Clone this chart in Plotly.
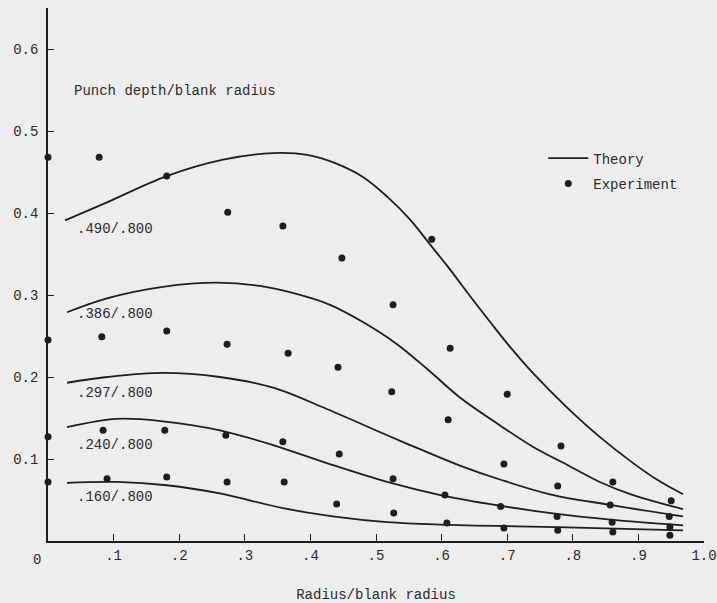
import plotly.graph_objects as go

# Theory curves: punch depth / blank radius vs radius / blank radius
curve_labels = [".490/.800", ".386/.800", ".297/.800", ".240/.800", ".160/.800"]

theory_x_490 = [0.026, 0.09, 0.181, 0.267, 0.343, 0.395, 0.434, 0.48, 0.517, 0.552, 0.582,
                0.613, 0.643, 0.674, 0.704, 0.739, 0.791, 0.841, 0.892, 0.93, 0.968]
theory_y_490 = [0.391, 0.413, 0.445, 0.465, 0.473, 0.471, 0.462, 0.444, 0.420, 0.392, 0.362,
                0.331, 0.299, 0.267, 0.237, 0.205, 0.163, 0.127, 0.095, 0.074, 0.057]

theory_x_386 = [0.029, 0.09, 0.175, 0.258, 0.323, 0.38, 0.43, 0.48, 0.532, 0.582, 0.628,
                0.689, 0.739, 0.791, 0.841, 0.892, 0.968]
theory_y_386 = [0.279, 0.296, 0.310, 0.315, 0.311, 0.301, 0.288, 0.267, 0.240, 0.207, 0.175,
                0.141, 0.115, 0.093, 0.072, 0.056, 0.039]

theory_x_297 = [0.029, 0.09, 0.175, 0.262, 0.343, 0.425, 0.517, 0.567, 0.628, 0.689, 0.765,
                0.857, 0.968]
theory_y_297 = [0.193, 0.200, 0.205, 0.200, 0.187, 0.161, 0.129, 0.112, 0.092, 0.075, 0.057,
                0.044, 0.030]

theory_x_240 = [0.029, 0.105, 0.175, 0.262, 0.343, 0.425, 0.517, 0.598, 0.689, 0.776,
                0.857, 0.968]
theory_y_240 = [0.139, 0.149, 0.146, 0.135, 0.117, 0.095, 0.072, 0.056, 0.043, 0.033,
                0.026, 0.019]

theory_x_160 = [0.029, 0.105, 0.181, 0.262, 0.358, 0.434, 0.517, 0.598, 0.776, 0.968]
theory_y_160 = [0.071, 0.072, 0.068, 0.058, 0.040, 0.030, 0.023, 0.020, 0.017, 0.013]

# Experimental measurements
exp_x_1 = [0.0, 0.078, 0.181, 0.274, 0.358, 0.448, 0.526, 0.585, 0.613, 0.70, 0.782, 0.861, 0.95]
exp_y_1 = [0.468, 0.468, 0.445, 0.401, 0.384, 0.345, 0.288, 0.368, 0.235, 0.179, 0.116, 0.072, 0.049]

exp_x_2 = [0.0, 0.082, 0.181, 0.273, 0.366, 0.442, 0.524, 0.610, 0.695, 0.777, 0.857, 0.947]
exp_y_2 = [0.245, 0.249, 0.256, 0.240, 0.229, 0.212, 0.182, 0.148, 0.094, 0.067, 0.044, 0.030]

exp_x_3 = [0.0, 0.084, 0.178, 0.271, 0.358, 0.444, 0.526, 0.605, 0.690, 0.776, 0.860, 0.948]
exp_y_3 = [0.127, 0.135, 0.135, 0.129, 0.121, 0.106, 0.076, 0.056, 0.042, 0.030, 0.023, 0.017]

exp_x_4 = [0.0, 0.090, 0.181, 0.273, 0.360, 0.440, 0.527, 0.608, 0.695, 0.777, 0.861, 0.948]
exp_y_4 = [0.072, 0.076, 0.078, 0.072, 0.072, 0.045, 0.034, 0.022, 0.016, 0.013, 0.011, 0.007]

x_tick_vals = [0.1, 0.2, 0.3, 0.4, 0.5, 0.6, 0.7, 0.8, 0.9, 1.0]
x_tick_text = [".1", ".2", ".3", ".4", ".5", ".6", ".7", ".8", ".9", "1.0"]
y_tick_vals = [0.1, 0.2, 0.3, 0.4, 0.5, 0.6]
y_tick_text = ["0.1", "0.2", "0.3", "0.4", "0.5", "0.6"]

INK = "#1e1e1e"
TEXT = "#2b2b2b"
PAPER = "#ededed"
FONT = "Liberation Mono, Courier New, monospace"

theory = [
    (theory_x_490, theory_y_490),
    (theory_x_386, theory_y_386),
    (theory_x_297, theory_y_297),
    (theory_x_240, theory_y_240),
    (theory_x_160, theory_y_160),
]

fig = go.Figure()

for i, (tx, ty) in enumerate(theory):
    fig.add_trace(go.Scatter(
        x=tx, y=ty, mode="lines", name="Theory",
        legendgroup="theory", showlegend=(i == 0),
        line=dict(color=INK, width=1.8, shape="spline", smoothing=1.0),
        hoverinfo="skip",
    ))

exp_x = exp_x_1 + exp_x_2 + exp_x_3 + exp_x_4
exp_y = exp_y_1 + exp_y_2 + exp_y_3 + exp_y_4
fig.add_trace(go.Scatter(
    x=exp_x, y=exp_y, mode="markers", name="Experiment",
    marker=dict(color=INK, size=7, line=dict(width=0)),
    cliponaxis=False,
))

# Ratio labels under the left end of each theory curve
label_y = [0.380, 0.277, 0.180, 0.117, 0.054]
for text, ly in zip(curve_labels, label_y):
    fig.add_annotation(x=0.041, y=ly, text=text, showarrow=False,
                       xanchor="left", yanchor="middle",
                       font=dict(family=FONT, size=14, color=TEXT))

fig.add_annotation(x=0.036, y=0.549, text="Punch depth/blank radius", showarrow=False,
                   xanchor="left", yanchor="middle",
                   font=dict(family=FONT, size=14, color=TEXT))

# origin label
fig.add_annotation(x=0, y=0, text="0", showarrow=False, xanchor="center", yanchor="top",
                   xshift=-11, yshift=-9, font=dict(family=FONT, size=14, color=TEXT))

fig.update_layout(
    width=717, height=603,
    margin=dict(l=48, r=13, t=8, b=62),
    paper_bgcolor=PAPER, plot_bgcolor=PAPER,
    font=dict(family=FONT, size=14, color=TEXT),
    showlegend=True,
    legend=dict(x=0.755, y=0.694, xanchor="left", yanchor="middle",
                bgcolor="rgba(0,0,0,0)", font=dict(family=FONT, size=14, color=TEXT),
                itemwidth=40, tracegroupgap=4),
    xaxis=dict(
        range=[0, 1.0], showgrid=False, zeroline=False, automargin=False,
        showline=True, linecolor=INK, linewidth=1.5,
        ticks="inside", ticklen=7, tickwidth=1.3, tickcolor=INK,
        tickvals=x_tick_vals, ticktext=x_tick_text,
        title=dict(text="Radius/blank radius", standoff=29,
                   font=dict(family=FONT, size=14, color=TEXT)),
    ),
    yaxis=dict(
        range=[0, 0.65], showgrid=False, zeroline=False, automargin=False,
        showline=True, linecolor=INK, linewidth=1.5,
        ticks="inside", ticklen=6, tickwidth=1.3, tickcolor=INK,
        tickvals=y_tick_vals, ticktext=y_tick_text,
        ticklabelstandoff=5,
    ),
)

fig.write_html("out.html")
